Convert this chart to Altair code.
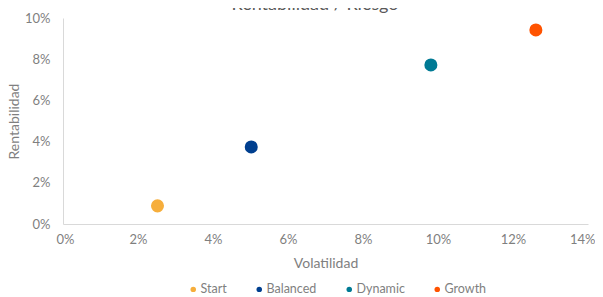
import altair as alt
import pandas as pd

names = ["Start", "Balanced", "Dynamic", "Growth"]
volatility = [0.0252, 0.0502, 0.0981, 0.1261]
returns = [0.0088, 0.0374, 0.0772, 0.0942]
colors = ["#F6AE3C", "#003F8F", "#007A94", "#FF5300"]
x_ticks = [0, 0.02, 0.04, 0.06, 0.08, 0.10, 0.12, 0.14]
y_ticks = [0, 0.02, 0.04, 0.06, 0.08, 0.10]
title_text = "Rentabilidad / Riesgo"

df = pd.DataFrame({"name": names, "vol": volatility, "ret": returns})

FONT = "Lato"
GRAY = "#7f7f7f"

points = alt.Chart(df).mark_circle(size=170, opacity=1).encode(
    x=alt.X("vol:Q", title="Volatilidad",
            scale=alt.Scale(domain=[0, 0.14], nice=False, zero=True),
            axis=alt.Axis(format=".0%", values=x_ticks, grid=False, ticks=False,
                          domainColor="#d9d9d9", labelPadding=9, labelFontSize=13,
                          labelFlush=True, labelFlushOffset=7, labelOverlap=False,
                          labelColor=GRAY, titleFontSize=14, titleColor=GRAY,
                          titleFontWeight="normal", titleY=39, titleBaseline="middle",
                          labelFont=FONT, titleFont=FONT)),
    y=alt.Y("ret:Q", title="Rentabilidad",
            scale=alt.Scale(domain=[0, 0.10], nice=False),
            axis=alt.Axis(format=".0%", values=y_ticks, grid=False, ticks=False,
                          domainColor="#d9d9d9", labelPadding=13, labelFontSize=13,
                          labelFlush=False, labelOverlap=False,
                          labelColor=GRAY, titleFontSize=14, titleColor=GRAY,
                          titleFontWeight="normal", titleX=-49, titleY=103,
                          titleBaseline="middle", labelFont=FONT, titleFont=FONT)),
    color=alt.Color("name:N", sort=names,
                    scale=alt.Scale(domain=names, range=colors),
                    legend=alt.Legend(title=None, orient="none", direction="horizontal",
                                      legendX=124, legendY=265, symbolSize=30,
                                      symbolType="circle", labelFontSize=12.5,
                                      labelColor=GRAY, labelFont=FONT, labelOffset=1,
                                      columnPadding=26, padding=0)),
)

title = alt.Chart(pd.DataFrame({"t": [title_text]})).mark_text(
    font=FONT, fontSize=18, color="#595959", baseline="alphabetic", align="center"
).encode(text="t:N", x=alt.value(252), y=alt.value(-8))

chart = alt.layer(points, title).properties(
    width=525, height=206,
    autosize=alt.AutoSizeParams(type="none"),
    padding={"left": 55, "top": 10, "right": 7, "bottom": 72},
).configure_view(stroke=None)

chart.save("out.html", embed_options={"renderer": "svg", "actions": False})
